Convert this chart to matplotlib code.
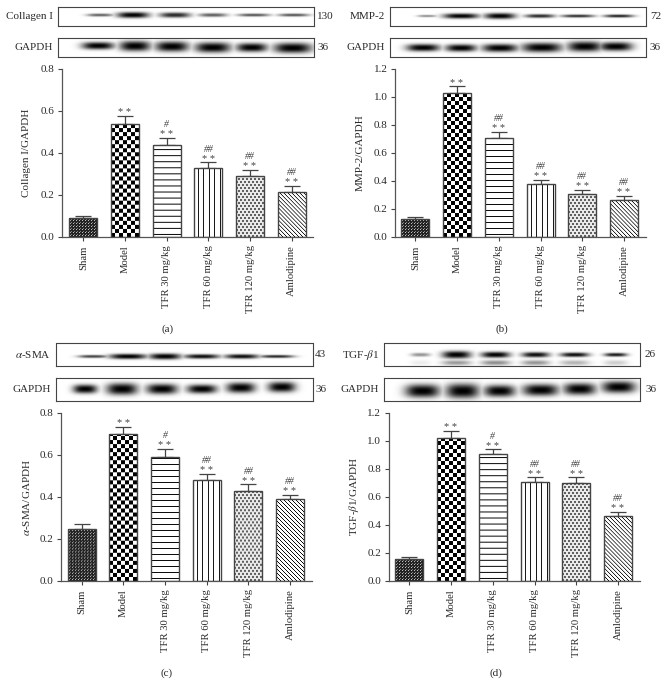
import numpy as np
import matplotlib
matplotlib.use("Agg")
import matplotlib.pyplot as plt

plt.rcParams['font.family'] = ['Liberation Serif', 'DejaVu Serif']
plt.rcParams['mathtext.fontset'] = 'stix'

W, H = 667, 695
categories = ["Sham", "Model", "TFR 30 mg/kg", "TFR 60 mg/kg", "TFR 120 mg/kg", "Amlodipine"]
panel_labels = ["(a)", "(b)", "(c)", "(d)"]

# bar values and upper error bars
collagen_vals = [0.09, 0.54, 0.44, 0.33, 0.29, 0.215]
collagen_errs = [0.01, 0.035, 0.03, 0.025, 0.03, 0.028]
mmp2_vals = [0.125, 1.025, 0.705, 0.38, 0.305, 0.265]
mmp2_errs = [0.015, 0.05, 0.045, 0.03, 0.03, 0.03]
sma_vals = [0.25, 0.70, 0.59, 0.48, 0.43, 0.39]
sma_errs = [0.02, 0.035, 0.04, 0.03, 0.03, 0.02]
tgf_vals = [0.155, 1.025, 0.91, 0.705, 0.70, 0.465]
tgf_errs = [0.02, 0.05, 0.03, 0.035, 0.04, 0.03]

stars = ["", "* *", "* *", "* *", "* *", "* *"]
sharps_a = ["", "", "#", "##", "##", "##"]
sharps_b = ["", "", "##", "##", "##", "##"]

ylabels = ["Collagen I/GAPDH", "MMP-2/GAPDH", r"$\alpha$-SMA/GAPDH", r"TGF-$\beta$1/GAPDH"]
blot_names = ["Collagen I", "MMP-2", r"$\alpha$-SMA", r"TGF-$\beta$1"]
blot_kda = ["130", "72", "43", "26"]
gapdh_kda = "36"

# western-blot band strength (0-1) per lane
collagen_band = [0.6, 1.0, 0.8, 0.6, 0.65, 0.65]
mmp2_band = [0.45, 1.0, 0.95, 0.8, 0.8, 0.85]
sma_band = [0.7, 1.0, 0.95, 0.9, 0.9, 0.8]
tgf_band = [0.4, 1.0, 0.95, 0.9, 0.9, 0.85]
tgf_lower_band = [0.08, 0.4, 0.45, 0.42, 0.3, 0.2]
gapdh_band = [1.0, 1.0, 1.0, 1.0, 1.0, 1.0]

# ---- layout (pixels) ----
panels = [
    dict(vals=collagen_vals, errs=collagen_errs, sharps=sharps_a, top=0.8, step=0.2, band=collagen_band,
         ax_x=62, x1=313, y0=237, yt=69, c0=83.3, c5=291.7, box=(58, 314), b1=(7, 26), b2=(38, 57),
         lab_r=52.5, kda_l=317, yl=(27, 153), cap=(168, 329),
         t_x=[100, 133, 175, 213, 254, 294], t_w=[23, 28, 27, 25, 28, 27], t_h=[2, 4, 3.5, 2.5, 2, 2], t_y=[15] * 6,
         g_x=[98, 135, 172, 213, 252, 293], g_w=[28, 27, 29, 31, 27, 33], g_h=[5, 7, 7, 7, 6, 7],
         g_y=[45.7, 46, 46.5, 47.5, 47.5, 48]),
    dict(vals=mmp2_vals, errs=mmp2_errs, sharps=sharps_b, top=1.2, step=0.2, band=mmp2_band,
         ax_x=395, x1=646, y0=237, yt=69, c0=415.3, c5=624, box=(390, 646), b1=(7, 26), b2=(38, 57),
         lab_r=385, kda_l=650, yl=(360, 153), cap=(502, 329),
         t_x=[427, 461, 500, 540, 578, 619], t_w=[17, 31, 27, 26, 29, 26], t_h=[1.5, 3.5, 4, 2.5, 2, 2], t_y=[16] * 6,
         g_x=[423, 461, 500, 542, 585, 616], g_w=[29, 27, 31, 35, 30, 29], g_h=[5, 5, 5.5, 6.5, 7, 6],
         g_y=[47.7, 48, 48, 47.5, 46.5, 46.5]),
    dict(vals=sma_vals, errs=sma_errs, sharps=sharps_a, top=0.8, step=0.2, band=sma_band,
         ax_x=61, x1=312, y0=581, yt=413, c0=81.7, c5=290, box=(56, 313), b1=(343.5, 366), b2=(378, 401),
         lab_r=51, kda_l=315, yl=(27, 497), cap=(167, 673),
         t_x=[93, 128, 165, 202, 242, 277], t_w=[26, 33, 28, 31, 30, 30], t_h=[2, 3.5, 4, 3, 3, 2], t_y=[356.7] * 6,
         g_x=[85, 122, 162, 202, 241, 282], g_w=[21, 27, 27, 26, 25, 24], g_h=[6, 8, 7, 6, 7, 7],
         g_y=[389, 389, 389, 389, 387.7, 387]),
    dict(vals=tgf_vals, errs=tgf_errs, sharps=sharps_a, top=1.2, step=0.2, band=tgf_band, lower=tgf_lower_band,
         ax_x=388.7, x1=640, y0=581, yt=413, c0=409.3, c5=618, box=(383.7, 640), b1=(343.5, 366), b2=(378, 401),
         lab_r=379, kda_l=645, yl=(354, 497), cap=(496, 673),
         t_x=[420, 456, 495, 535, 574, 615], t_w=[17, 25, 25, 24, 25, 20], t_h=[2.5, 5, 4, 3.5, 3, 2.5], t_y=[355] * 6,
         g_x=[422, 462, 499, 540, 579, 618], g_w=[30, 29, 27, 31, 28, 29], g_h=[9, 10, 8, 8, 8, 8],
         g_y=[391, 391, 391, 390, 389, 387]),
]
INK = "#2a2a2a"
EDGE = "#444444"
BAR_PX = 28


def texture(kind, nx, ny):
    """Fill pattern of one bar, one cell per output pixel."""
    x, y = np.meshgrid(np.arange(nx), np.arange(ny))
    if kind == 0:      # fine dark weave
        img = np.where((x % 3 == 1) & (y % 3 == 1), 0.75, 0.14)
        img = np.where(((x + 1) % 3 == 0) & ((y + 1) % 3 == 0), 0.5, img)
    elif kind == 1:    # coarse checker
        img = np.where(((x // 4) + (y // 4)) % 2 == 0, 0.0, 1.0)
    elif kind == 2:    # horizontal lines
        img = np.where(y % 6 == 2, 0.05, 1.0)
    elif kind == 3:    # vertical lines
        img = np.where(((x + 2) * 2) % 11 < 2, 0.1, 1.0)
    elif kind == 4:    # dotted weave
        shift = 2 * ((y // 3) % 2)
        img = np.where(((x + shift) % 4 < 2) & (y % 3 < 2), 0.38, 0.92)
    else:              # diagonal lines falling to the right (image row 0 is the bottom)
        img = np.where((x + y) % 4 == 0, 0.05, 1.0)
    return img


def axes_px(x0, x1, ytop, ybot):
    return fig.add_axes([x0 / W, 1 - ybot / H, (x1 - x0) / W, (ybot - ytop) / H])


def blot(box, yr, xs, ws, hs, ys, strengths, lower=None):
    ax = axes_px(box[0], box[1], yr[0], yr[1])
    nx = int((box[1] - box[0]) * 2)
    ny = int((yr[1] - yr[0]) * 2)
    px = np.linspace(box[0], box[1], nx)
    py = np.linspace(yr[0], yr[1], ny)
    X, Y = np.meshgrid(px, py)
    dark = np.zeros_like(X)
    for i in range(6):
        g = np.exp(-np.abs((X - xs[i]) / (ws[i] / 1.75)) ** 3 - np.abs((Y - ys[i]) / (hs[i] / 1.35)) ** 2.4)
        dark = np.maximum(dark, min(1.0, strengths[i] * 1.05) * g)
        if lower is not None:
            g2 = np.exp(-np.abs((X - xs[i]) / (ws[i] / 1.7)) ** 3 - np.abs((Y - (ys[i] + 8)) / 2.6) ** 2)
            dark = np.maximum(dark, lower[i] * g2)
    ax.imshow(1 - dark, cmap="gray", vmin=0, vmax=1, aspect="auto",
              extent=(box[0], box[1], yr[1], yr[0]), interpolation="bilinear")
    ax.set_xticks([])
    ax.set_yticks([])
    for s in ax.spines.values():
        s.set_linewidth(0.8)
        s.set_color(EDGE)


def ftext(x, y, s, **kw):
    kw.setdefault("color", INK)
    kw.setdefault("fontsize", 8)
    fig.text(x / W, 1 - y / H, s, **kw)


fig = plt.figure(figsize=(W / 100, H / 100), dpi=100)

for p, ylab, name, kda, cap in zip(panels, ylabels, blot_names, blot_kda, panel_labels):
    blot(p["box"], p["b1"], p["t_x"], p["t_w"], p["t_h"], p["t_y"], p["band"], p.get("lower"))
    blot(p["box"], p["b2"], p["g_x"], p["g_w"], p["g_h"], p["g_y"], gapdh_band)
    ymid1, ymid2 = sum(p["b1"]) / 2, sum(p["b2"]) / 2
    ftext(p["lab_r"], ymid1, name, ha="right", va="center", fontsize=8)
    ftext(p["lab_r"], ymid2, "GAPDH", ha="right", va="center", fontsize=8)
    ftext(p["kda_l"], ymid1, kda, ha="left", va="center", fontsize=8)
    ftext(p["kda_l"], ymid2, gapdh_kda, ha="left", va="center", fontsize=8)
    ftext(p["yl"][0], p["yl"][1], ylab, rotation=90, ha="center", va="center", fontsize=8)
    ftext(p["cap"][0], p["cap"][1], cap, ha="center", va="center", fontsize=8)

    ax = axes_px(p["ax_x"], p["x1"], p["yt"], p["y0"])
    px_step = (p["c5"] - p["c0"]) / 5
    xpos = np.arange(6)
    xlim = ((p["ax_x"] - p["c0"]) / px_step, (p["x1"] - p["c0"]) / px_step)
    bw = BAR_PX / px_step
    px_per_unit = (p["y0"] - p["yt"]) / p["top"]
    bars = ax.bar(xpos, p["vals"], width=bw, facecolor="none", edgecolor=EDGE, linewidth=1.0, zorder=3)
    for i, (b, v) in enumerate(zip(bars, p["vals"])):
        nx, ny = BAR_PX, max(2, int(round(v * px_per_unit)))
        im = ax.imshow(texture(i, nx, ny), cmap="gray", vmin=0, vmax=1, aspect="auto", origin="lower",
                       extent=(i - bw / 2, i + bw / 2, 0, v), interpolation="bilinear", zorder=2)
        im.set_clip_path(b)
    ax.errorbar(xpos, p["vals"], yerr=[np.zeros(6), p["errs"]], fmt="none", ecolor=EDGE,
                elinewidth=0.9, capsize=5.7, capthick=0.9, zorder=1)
    for i, (v, e) in enumerate(zip(p["vals"], p["errs"])):
        tip = v + e
        ax.annotate(stars[i], (i, tip), xytext=(0, 0.6), textcoords="offset points", ha="center",
                    va="baseline", fontsize=7.5, color="#444444", annotation_clip=False)
        if p["sharps"][i]:
            ax.annotate(p["sharps"][i], (i, tip), xytext=(0, 7.8), textcoords="offset points", ha="center",
                        va="baseline", fontsize=7, style="italic", color="#444444", annotation_clip=False)
    ax.set_xlim(*xlim)
    ax.set_ylim(0, p["top"])
    ax.set_xticks(xpos)
    ax.set_xticklabels(categories, rotation=90, fontsize=7.7, color=INK)
    ticks = np.arange(0, p["top"] + 0.001, p["step"])
    ax.set_yticks(ticks)
    ax.set_yticklabels([f"{t:.1f}" for t in ticks], fontsize=8, color=INK)
    ax.tick_params(axis="both", length=3, width=0.8, color=EDGE, pad=2.5)
    ax.tick_params(axis="x", pad=3)
    for s in ("top", "right"):
        ax.spines[s].set_visible(False)
    for s in ("left", "bottom"):
        ax.spines[s].set_linewidth(0.9)
        ax.spines[s].set_color("#555555")

fig.savefig("out.png", dpi=100)
